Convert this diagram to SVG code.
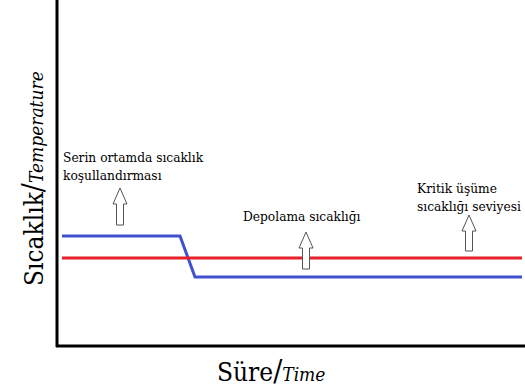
<svg xmlns="http://www.w3.org/2000/svg" width="525" height="387" viewBox="0 0 525 387">
<style>
text{font-family:"DejaVu Serif Condensed","DejaVu Serif",serif;fill:#000}
.lbl{font-size:13.6px}
.ax{font-size:26px}
.it{font-style:italic;font-size:19px}
.arr{fill:#fff;stroke:#555;stroke-width:1}
</style>
<rect width="525" height="387" fill="#fff"/>
<g id="axes" stroke="#000" stroke-width="3" fill="none">
<line x1="57" y1="0" x2="57" y2="347"/>
<line x1="56" y1="346" x2="525" y2="346"/>
</g>
<g id="connectors" fill="none" stroke-width="3">
<polyline points="62,236 180,236 195,277 522,277" stroke="#4050d0"/>
<line x1="62" y1="258" x2="522" y2="258" stroke="#e8202a"/>
</g>
<g id="ylabel">
<text class="ax" transform="translate(43,286) rotate(-90)">Sıcaklık<tspan font-size="30">/</tspan><tspan class="it">Temperature</tspan></text>
</g>
<g id="xlabel">
<text class="ax" x="217" y="381">Süre<tspan font-size="30">/</tspan><tspan class="it" font-size="18">Time</tspan></text>
</g>
<g id="serin">
<text class="lbl" x="63" y="162">Serin ortamda sıcaklık</text>
<text class="lbl" x="63" y="180">koşullandırması</text>
<path class="arr" d="M120,188 L127,204 L123.5,204 L123.5,225 L116.5,225 L116.5,204 L113,204 Z"/>
</g>
<g id="depolama">
<text class="lbl" x="243" y="221">Depolama sıcaklığı</text>
<path class="arr" d="M306,232 L313,248 L309.5,248 L309.5,269 L302.5,269 L302.5,248 L299,248 Z"/>
</g>
<g id="kritik">
<text class="lbl" x="417" y="193">Kritik üşüme</text>
<text class="lbl" x="417" y="211">sıcaklığı seviyesi</text>
<path class="arr" d="M469,215 L476,231 L472.5,231 L472.5,251 L465.5,251 L465.5,231 L462,231 Z"/>
</g>
</svg>
